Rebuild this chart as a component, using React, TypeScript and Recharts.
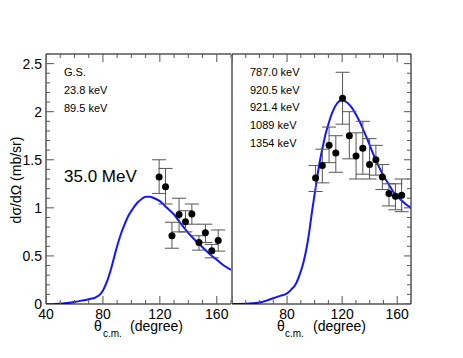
import React from 'react';
import { ComposedChart, Line, Scatter, XAxis, YAxis, ErrorBar } from 'recharts';

// axis ticks
const xTicks = [40, 50, 60, 70, 80, 90, 100, 110, 120, 130, 140, 150, 160, 170];
const yTicks = [0, 0.1, 0.2, 0.3, 0.4, 0.5, 0.6, 0.7, 0.8, 0.9, 1, 1.1, 1.2, 1.3, 1.4, 1.5, 1.6, 1.7, 1.8, 1.9, 2, 2.1, 2.2, 2.3, 2.4, 2.5, 2.6];
const xLabelsLeft = [40, 80, 120, 160];
const xLabelsRight = [80, 120, 160];
const yLabels = [0, 0.5, 1, 1.5, 2, 2.5];

// left panel: G.S. + 23.8 keV + 89.5 keV
const gsTheta = [119.5, 124, 128.5, 133.5, 138, 142.5, 147.5, 152, 156.5, 161];
const gsSigma = [1.32, 1.22, 0.71, 0.93, 0.855, 0.935, 0.64, 0.74, 0.555, 0.66];
const gsUpper = [1.5, 1.41, 0.85, 1.1, 0.97, 1.04, 0.71, 0.83, 0.62, 0.77];
const gsLower = [1.15, 1.04, 0.58, 0.75, 0.75, 0.83, 0.56, 0.64, 0.48, 0.55];
const gsCurveTheta = [40, 50, 60, 65, 70, 75, 78, 80, 83, 86, 89, 92, 95, 98, 101, 104, 107, 110, 113, 116, 120, 125, 130, 135, 140, 145, 150, 155, 160, 165, 170];
const gsCurveSigma = [0, 0.003, 0.02, 0.035, 0.05, 0.07, 0.1, 0.14, 0.24, 0.38, 0.55, 0.7, 0.82, 0.92, 0.99, 1.05, 1.09, 1.115, 1.115, 1.1, 1.07, 1.0, 0.93, 0.83, 0.74, 0.66, 0.59, 0.52, 0.46, 0.4, 0.355];

// right panel: 787.0 .. 1354 keV group
const exTheta = [100.7, 105.6, 110.5, 115.4, 120.3, 125.2, 130.1, 135, 139.9, 144.5, 149.2, 154, 158.7, 163.2];
const exSigma = [1.31, 1.44, 1.65, 1.57, 2.14, 1.75, 1.54, 1.62, 1.45, 1.5, 1.32, 1.15, 1.12, 1.13];
const exUpper = [1.44, 1.61, 1.84, 1.75, 2.41, 2.0, 1.78, 1.9, 1.72, 1.65, 1.45, 1.25, 1.25, 1.3];
const exLower = [1.17, 1.26, 1.47, 1.37, 1.87, 1.51, 1.3, 1.35, 1.3, 1.34, 1.19, 1.02, 0.98, 0.96];
const exCurveTheta = [40, 50, 60, 65, 70, 75, 80, 83, 86, 88, 90, 92, 94, 96, 98, 100, 102, 104, 106, 108, 110, 112, 114, 116, 118, 120, 122, 124, 126, 128, 130, 133, 136, 139, 142, 145, 148, 151, 154, 157, 160, 163, 166, 170];
const exCurveSigma = [0, 0.002, 0.015, 0.035, 0.06, 0.085, 0.11, 0.15, 0.2, 0.26, 0.34, 0.44, 0.57, 0.74, 0.95, 1.14, 1.33, 1.5, 1.64, 1.77, 1.87, 1.96, 2.03, 2.08, 2.11, 2.12, 2.11, 2.09, 2.06, 2.02, 1.97, 1.89, 1.79, 1.69, 1.58, 1.48, 1.39, 1.31, 1.24, 1.17, 1.12, 1.08, 1.04, 1.0];

const gsLabels = ['G.S.', '23.8 keV', '89.5 keV'];
const exLabels = ['787.0 keV', '920.5 keV', '921.4 keV', '1089 keV', '1354 keV'];

const FONT = '"Liberation Sans", Arial, Helvetica, sans-serif';
const TICK = '#555';
const BLUE = '#1414ff';
const X_MIN = 40, X_MAX = 170, Y_MIN = 0, Y_MAX = 2.6;

const points = (t: number[], s: number[], up: number[], lo: number[]) =>
  t.map((x, i) => ({ x, y: s[i], err: [s[i] - lo[i], up[i] - s[i]] }));
const curve = (t: number[], s: number[]) => t.map((x, i) => ({ x, y: s[i] }));

const isMajorX = (v: number) => v % 40 === 0;
const isMajorY = (v: number) => Math.abs(v * 2 - Math.round(v * 2)) < 1e-6;

// tick marks placed on the frame through the chart scales, drawn inward
const bottomMarks = xTicks.map((v) => ({ x: v, y: Y_MIN, len: isMajorX(v) ? 8 : 4 }));
const topMarks = xTicks.map((v) => ({ x: v, y: Y_MAX, len: isMajorX(v) ? 8 : 4 }));
const leftMarks = yTicks.map((v) => ({ x: X_MIN, y: v, len: isMajorY(v) ? 8 : 4 }));
const rightMarks = yTicks.map((v) => ({ x: X_MAX, y: v, len: isMajorY(v) ? 7 : 4 }));

const markShape = (dx: number, dy: number) => (p: any) => (
  <line x1={p.cx} y1={p.cy} x2={p.cx + dx * p.payload.len} y2={p.cy + dy * p.payload.len} stroke={TICK} strokeWidth={1} />
);

const bottomLabel = (labels: number[]) => (p: any) => {
  const v = p.payload.value;
  return labels.includes(v) ? (
    <text x={p.x} y={p.y + 15} textAnchor="middle" fontSize={14} fontFamily={FONT} fill="#000">{v}</text>
  ) : <g />;
};

const leftLabel = (p: any) => {
  const v = p.payload.value;
  return yLabels.includes(v) ? (
    <text x={p.x - 4} y={p.y + 5} textAnchor="end" fontSize={14} fontFamily={FONT} fill="#000">{v}</text>
  ) : <g />;
};

const Dot = (p: any) => <circle cx={p.cx} cy={p.cy} r={3.5} fill="#000" />;

function Panel({ left, pts, line }: { left: boolean; pts: any[]; line: any[] }) {
  // left panel: plot x 46..232 ; right panel chart starts at page x 231, plot x 232..411
  return (
    <ComposedChart
      width={left ? 231 : 232}
      height={358}
      margin={left ? { top: 53, right: 0, bottom: 24, left: 0 } : { top: 53, right: 51, bottom: 24, left: 0 }}
    >
      <XAxis dataKey="x" type="number" domain={[X_MIN, X_MAX]} ticks={xTicks} interval={0} allowDataOverflow height={30}
        tickSize={0} tickMargin={0} tickLine={false} axisLine={{ stroke: '#000' }} tick={bottomLabel(left ? xLabelsLeft : xLabelsRight)} />
      <XAxis xAxisId="top" orientation="top" dataKey="x" type="number" domain={[X_MIN, X_MAX]} allowDataOverflow height={1}
        tickLine={false} axisLine={{ stroke: '#000' }} tick={false} />
      <YAxis type="number" domain={[Y_MIN, Y_MAX]} ticks={yTicks} interval={0} allowDataOverflow width={left ? 46 : 1}
        tickSize={0} tickMargin={0} tickLine={false} axisLine={{ stroke: '#000' }} tick={left ? leftLabel : false} />
      {!left && (
        <YAxis yAxisId="r" orientation="right" type="number" domain={[Y_MIN, Y_MAX]} allowDataOverflow width={1}
          tickLine={false} axisLine={{ stroke: '#000' }} tick={false} />
      )}
      <Scatter data={bottomMarks} dataKey="y" shape={markShape(0, -1)} isAnimationActive={false} />
      <Scatter data={topMarks} dataKey="y" shape={markShape(0, 1)} isAnimationActive={false} />
      {left ? (
        <Scatter data={leftMarks} dataKey="y" shape={markShape(1, 0)} isAnimationActive={false} />
      ) : (
        <Scatter data={rightMarks} dataKey="y" shape={markShape(-1, 0)} isAnimationActive={false} />
      )}
      <Line data={line} dataKey="y" type="monotone" stroke={BLUE} strokeWidth={2} dot={false} isAnimationActive={false} />
      <Scatter data={pts} dataKey="y" shape={Dot} isAnimationActive={false}>
        <ErrorBar dataKey="err" direction="y" width={7} stroke="#555" strokeWidth={1} />
      </Scatter>
    </ComposedChart>
  );
}

export default function App() {
  return (
    <div style={{ position: 'absolute', left: 0, top: 0, width: 463, height: 358, background: '#fff' }}>
      <svg width={463} height={358} style={{ position: 'absolute', left: 0, top: 0 }} fontFamily={FONT}>
        {gsLabels.map((s, i) => (
          <text key={s} x={64} y={76 + i * 18} fontSize={11}>{s}</text>
        ))}
        {exLabels.map((s, i) => (
          <text key={s} x={250} y={76 + i * 17.7} fontSize={11}>{s}</text>
        ))}
        <text x={64} y={182} fontSize={17}>35.0 MeV</text>
        <text transform="translate(21,180) rotate(-90)" textAnchor="middle" fontSize={14}>dσ/dΩ (mb/sr)</text>
        <text x={94} y={331} fontSize={14}>θ</text>
        <text x={103} y={337} fontSize={10}>c.m.</text>
        <text x={130} y={331} fontSize={14}>(degree)</text>
        <text x={277} y={331} fontSize={14}>θ</text>
        <text x={285} y={337} fontSize={10}>c.m.</text>
        <text x={313} y={331} fontSize={14}>(degree)</text>
      </svg>
      <div style={{ position: 'absolute', left: 0, top: 0 }}>
        <Panel left pts={points(gsTheta, gsSigma, gsUpper, gsLower)} line={curve(gsCurveTheta, gsCurveSigma)} />
      </div>
      <div style={{ position: 'absolute', left: 231, top: 0 }}>
        <Panel left={false} pts={points(exTheta, exSigma, exUpper, exLower)} line={curve(exCurveTheta, exCurveSigma)} />
      </div>
    </div>
  );
}
